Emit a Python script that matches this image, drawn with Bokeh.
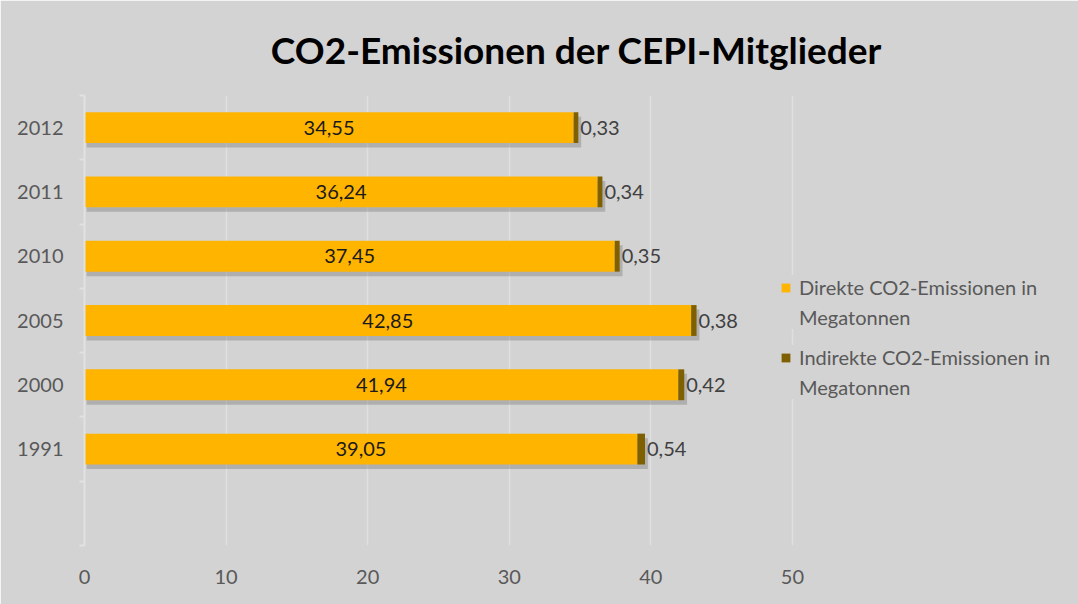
from bokeh.plotting import figure
from bokeh.models import (ColumnDataSource, Range1d, FixedTicker, Legend, LegendItem,
                          LabelSet)
from bokeh.core.properties import value
from bokeh.transform import dodge
from bokeh.embed import file_html
from bokeh.resources import INLINE

# ---- data ----
title_text = "CO2-Emissionen der CEPI-Mitglieder"
years = ["2012", "2011", "2010", "2005", "2000", "1991"]
direct = [34.55, 36.24, 37.45, 42.85, 41.94, 39.05]
indirect = [0.33, 0.34, 0.35, 0.38, 0.42, 0.54]
x_ticks = [0, 10, 20, 30, 40, 50]
legend_direct = ["Direkte CO2-Emissionen in", "Megatonnen"]
legend_indirect = ["Indirekte CO2-Emissionen in", "Megatonnen"]

def fmt(v):
    return f"{v:.2f}".replace(".", ",")

n = len(years)
pos = [n - i for i in range(n)]  # 2012 at top, empty slot at bottom (0)
total = [d + i for d, i in zip(direct, indirect)]
src = ColumnDataSource(dict(
    y=pos, year=years, direct=direct, indirect=indirect, total=total,
    direct_mid=[d / 2 for d in direct],
    direct_lbl=[fmt(d) for d in direct],
    ind_lbl=[fmt(i) for i in indirect],
))

BG = "#d3d3d3"
FONT = "Lato"

p = figure(width=1078, height=604, output_backend="svg", toolbar_location=None,
           x_range=Range1d(0, 69.5), y_range=Range1d(-0.5, n + 0.5),
           background_fill_color=BG, border_fill_color=BG,
           min_border_left=84, min_border_right=10, min_border_top=95,
           min_border_bottom=59, outline_line_color=BG, outline_line_width=3)

p.title.text = title_text
p.title.text_font = FONT
p.title.text_font_size = "37px"
p.title.text_font_style = "bold"
p.title.text_color = "#000000"
p.title.align = "center"
p.title.standoff = 48

# shadow
p.hbar(y=dodge("y", -0.07, range=p.y_range), left=0.15, right=dodge("total", 0.2),
       height=0.48, source=src, fill_color="#6e6e6e", fill_alpha=0.35, line_color=None)
r1 = p.hbar(y="y", left=0, right="direct", height=0.48, source=src,
            fill_color="#ffb400", line_color=None)
r2 = p.hbar(y="y", left="direct", right="total", height=0.48, source=src,
            fill_color="#7f6000", line_color=None)
blank = p.hbar(y=[], left=[], right=[], height=0.5, fill_alpha=0, line_alpha=0)

# labels
p.add_layout(LabelSet(x="direct_mid", y="y", text="direct_lbl", source=src,
                      text_align="center", text_baseline="middle",
                      text_font=value(FONT), text_font_size="20px", text_color="#1a1a1a"))
p.add_layout(LabelSet(x="total", y="y", text="ind_lbl", source=src, x_offset=2,
                      text_align="left", text_baseline="middle",
                      text_font=value(FONT), text_font_size="20px", text_color="#404040"))

# axes
p.xaxis.ticker = FixedTicker(ticks=x_ticks)
p.xaxis.axis_line_color = None
p.xaxis.major_tick_line_color = None
p.xaxis.minor_tick_line_color = None
p.xaxis.major_label_standoff = 18
p.xaxis.major_label_text_font = FONT
p.xaxis.major_label_text_font_size = "20px"
p.xaxis.major_label_text_color = "#595959"

p.yaxis.ticker = FixedTicker(ticks=pos, minor_ticks=[k - 0.5 for k in range(n + 2)])
p.yaxis.major_label_overrides = {k: y for k, y in zip(pos, years)}
p.yaxis.axis_line_color = "#e2e2e2"
p.yaxis.axis_line_width = 2
p.yaxis.major_tick_line_color = None
p.yaxis.minor_tick_line_color = "#e2e2e2"
p.yaxis.minor_tick_line_width = 2
p.yaxis.minor_tick_out = 5
p.yaxis.minor_tick_in = 0
p.yaxis.major_label_standoff = 15
p.yaxis.major_label_text_font = FONT
p.yaxis.major_label_text_font_size = "20px"
p.yaxis.major_label_text_color = "#595959"

p.xgrid.ticker = FixedTicker(ticks=x_ticks[1:])
p.xgrid.grid_line_color = "#dfdfdf"
p.xgrid.grid_line_width = 1.5
p.ygrid.grid_line_color = None

common = dict(background_fill_color=BG, background_fill_alpha=1.0,
              border_line_color=None, label_text_font=FONT, label_text_font_size="20px",
              label_text_color="#595959", glyph_width=11, glyph_height=11, spacing=6,
              label_height=20, label_standoff=8, padding=17, margin=0)
legA = Legend(items=[LegendItem(label=legend_direct[0], renderers=[r1]),
                     LegendItem(label=legend_direct[1], renderers=[blank])],
              location=(696, 216), **common)
legB = Legend(items=[LegendItem(label=legend_indirect[0], renderers=[r2]),
                     LegendItem(label=legend_indirect[1], renderers=[blank])],
              location=(696, 146), **common)
p.add_layout(legA)
p.add_layout(legB)

open("out.html", "w").write(file_html(p, INLINE))
